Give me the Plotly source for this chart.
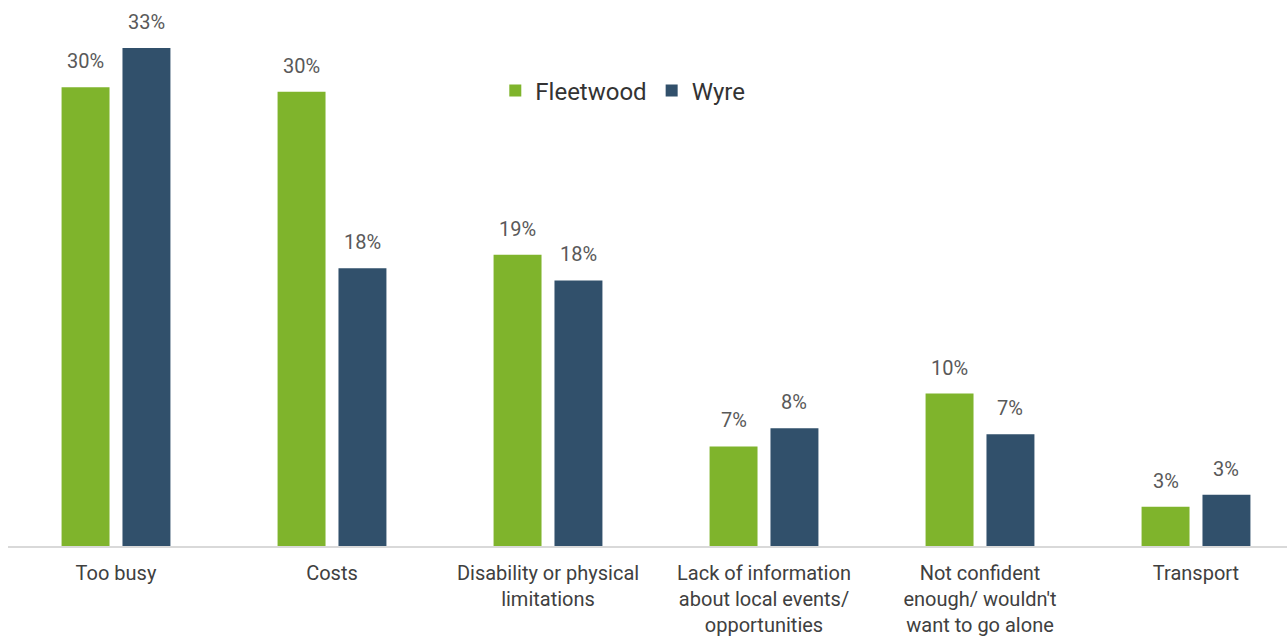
import plotly.graph_objects as go

# Reasons for not taking part, share of respondents (%)
categories = [
    "Too busy",
    "Costs",
    "Disability or physical<br>limitations",
    "Lack of information<br>about local events/<br>opportunities",
    "Not confident<br>enough/ wouldn't<br>want to go alone",
    "Transport",
]
fleetwood = [30.4, 30.1, 19.3, 6.6, 10.1, 2.6]
wyre = [33.0, 18.4, 17.6, 7.8, 7.4, 3.4]

GREEN = "#7fb42c"
NAVY = "#31506b"
LABEL_COLOR = "#595959"
FONT = "Roboto"

x_idx = list(range(len(categories)))
bar_w = 0.222
half_gap = 0.03

fig = go.Figure()
fig.add_trace(go.Bar(
    name="Fleetwood", x=x_idx, y=fleetwood,
    marker=dict(color=GREEN, line=dict(width=0)),
    width=bar_w, offset=-(bar_w + half_gap),
))
fig.add_trace(go.Bar(
    name="Wyre", x=x_idx, y=wyre,
    marker=dict(color=NAVY, line=dict(width=0)),
    width=bar_w, offset=half_gap,
))

# value labels floating above each bar
for series, sign in ((fleetwood, -1), (wyre, 1)):
    for i, v in enumerate(series):
        fig.add_annotation(
            x=i + sign * (half_gap + bar_w / 2), y=v,
            text=f"{v:.0f}%", showarrow=False,
            yanchor="bottom", yshift=12,
            font=dict(family=FONT, size=20, color=LABEL_COLOR),
        )

fig.update_layout(
    width=1287, height=636,
    margin=dict(l=8, r=0, t=10, b=90),
    paper_bgcolor="white", plot_bgcolor="white",
    showlegend=True,
    legend=dict(
        orientation="h", x=0.381, y=0.849, xanchor="left", yanchor="middle",
        font=dict(family=FONT, size=24, color="#333333"),
        bgcolor="rgba(0,0,0,0)", itemclick=False,
    ),
    xaxis=dict(
        tickmode="array", tickvals=x_idx, ticktext=categories,
        range=[-0.5, -0.5 + 1279 / 216],
        showgrid=False, zeroline=False,
        showline=True, linecolor="#d9d9d9", linewidth=2,
        tickfont=dict(family=FONT, size=20, color="#404040"),
        ticks="", ticklabelstandoff=8,
    ),
    yaxis=dict(
        range=[0, 536 / 15.09], visible=False, showgrid=False, zeroline=False,
    ),
)

fig.write_html("out.html")
